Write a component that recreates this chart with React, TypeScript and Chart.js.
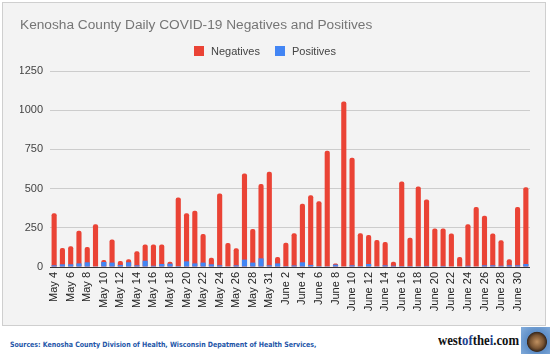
import React, { useEffect, useRef } from "react";
import { Chart, registerables } from "chart.js";

Chart.register(...registerables);

const dates = [
  "May 4", "May 5", "May 6", "May 7", "May 8", "May 9", "May 10", "May 11", "May 12", "May 13",
  "May 14", "May 15", "May 16", "May 17", "May 18", "May 19", "May 20", "May 21", "May 22", "May 23",
  "May 24", "May 25", "May 26", "May 27", "May 28", "May 30", "May 31",
  "June 1", "June 2", "June 3", "June 4", "June 5", "June 6", "June 7", "June 8", "June 9", "June 10",
  "June 11", "June 12", "June 13", "June 14", "June 15", "June 16", "June 17", "June 18", "June 19", "June 20",
  "June 21", "June 22", "June 23", "June 24", "June 25", "June 26", "June 27", "June 28", "June 29", "June 30",
  "July 1",
];

const negatives = [
  342, 121, 132, 231, 127, 272, 45, 176, 38, 49,
  100, 144, 144, 144, 34, 443, 342, 359, 210, 59,
  469, 153, 119, 596, 242, 530, 607,
  64, 155, 216, 403, 458, 420, 741, 23, 1055, 696,
  216, 204, 172, 159, 34, 545, 187, 513, 431, 246,
  246, 214, 64, 272, 382, 327, 214, 170, 49, 382,
  509,
];

const positives = [
  11, 17, 17, 23, 30, 2, 32, 28, 13, 30,
  11, 40, 8, 19, 21, 6, 36, 23, 28, 17,
  11, 2, 11, 47, 28, 55, 11,
  23, 6, 10, 30, 13, 6, 5, 15, 4, 11,
  6, 19, 5, 11, 8, 6, 6, 5, 7, 4,
  7, 4, 4, 8, 4, 11, 11, 8, 11, 11,
  19,
];

const yTicks = [0, 250, 500, 750, 1000, 1250];

const RED = "#ea4335";
const BLUE = "#4285f4";
const FONT = 'Arial, "Liberation Sans", sans-serif';

export default function App() {
  const canvasRef = useRef<HTMLCanvasElement | null>(null);

  useEffect(() => {
    const canvas = canvasRef.current;
    if (!canvas) return;
    const chart = new Chart(canvas, {
      type: "bar",
      data: {
        labels: dates,
        datasets: [
          {
            label: "Negatives",
            data: negatives,
            backgroundColor: RED,
            borderRadius: { topLeft: 2, topRight: 2, bottomLeft: 0, bottomRight: 0 },
            borderSkipped: false,
            barPercentage: 0.62,
            categoryPercentage: 1,
            order: 1,
          },
          {
            label: "Positives",
            data: positives,
            backgroundColor: BLUE,
            barPercentage: 0.62,
            categoryPercentage: 1,
            order: 0,
          },
        ],
      },
      options: {
        animation: false,
        responsive: false,
        maintainAspectRatio: false,
        layout: { padding: { left: 17, right: 15, top: 68, bottom: 0 } },
        plugins: {
          legend: { display: false },
          title: { display: false },
          tooltip: { enabled: false },
        },
        scales: {
          x: {
            stacked: true,
            grid: { display: false, drawTicks: false },
            border: { display: false },
            afterFit: (scale: any) => {
              scale.height = 58;
            },
            ticks: {
              autoSkip: false,
              minRotation: 90,
              maxRotation: 90,
              padding: 5,
              color: "#222",
              font: { family: FONT, size: 11 },
              callback: (_v: any, i: number) => (i % 2 === 0 ? dates[i] : ""),
            },
          },
          y: {
            stacked: false,
            min: yTicks[0],
            max: yTicks[yTicks.length - 1],
            afterBuildTicks: (scale: any) => {
              scale.ticks = yTicks.map((v) => ({ value: v }));
            },
            afterFit: (scale: any) => {
              scale.width = 30;
            },
            grid: {
              drawTicks: false,
              color: (ctx: any) => (ctx.tick && ctx.tick.value === 0 ? "#333" : "#cccccc"),
              lineWidth: 1,
            },
            border: { display: false },
            ticks: {
              padding: 7,
              color: "#444",
              font: { family: FONT, size: 11 },
              callback: (v: any) => String(v),
            },
          },
        },
      },
    });
    return () => chart.destroy();
  }, []);

  return (
    <div
      style={{
        position: "absolute",
        left: 0,
        top: 0,
        width: 550,
        height: 354,
        background: "#fff",
        overflow: "hidden",
        fontFamily: FONT,
      }}
    >
      <div
        style={{
          position: "absolute",
          left: 2,
          top: 2,
          width: 542,
          height: 322,
          border: "1px solid #cfcfcf",
          background: "#f3f3f3",
        }}
      >
        <canvas ref={canvasRef} width={542} height={322} style={{ display: "block", width: 542, height: 322 }} />
        <div
          style={{
            position: "absolute",
            left: 17,
            top: 14,
            fontSize: 13.7,
            color: "#757575",
            whiteSpace: "nowrap",
            lineHeight: "16px",
          }}
        >
          Kenosha County Daily COVID-19 Negatives and Positives
        </div>
        <div
          style={{
            position: "absolute",
            left: 191,
            top: 42,
            display: "flex",
            alignItems: "center",
            fontSize: 11,
            color: "#444",
            whiteSpace: "nowrap",
            lineHeight: "12px",
          }}
        >
          <span style={{ display: "inline-block", width: 10, height: 10, background: RED, marginRight: 7 }} />
          <span>Negatives</span>
          <span style={{ display: "inline-block", width: 10, height: 10, background: BLUE, marginLeft: 15, marginRight: 7 }} />
          <span>Positives</span>
        </div>
      </div>
      <div
        style={{
          position: "absolute",
          left: 10,
          top: 339.5,
          fontSize: 7.3,
          fontWeight: "bold",
          color: "#2456a8",
          whiteSpace: "nowrap",
          fontFamily: 'Verdana, "DejaVu Sans", sans-serif',
          lineHeight: "10px",
          transformOrigin: "left top",
          transform: "scaleX(0.86)",
        }}
      >
        Sources: Kenosha County Division of Health, Wisconsin Depatment of Health Services,
      </div>
      <div
        style={{
          position: "absolute",
          left: 438,
          top: 331,
          fontSize: 15,
          fontWeight: "bold",
          color: "#111",
          whiteSpace: "nowrap",
          fontFamily: '"Liberation Serif", "DejaVu Serif", serif',
          lineHeight: "18px",
          transformOrigin: "left top",
          transform: "scaleX(0.85)",
        }}
      >
        west<span style={{ color: "#1d3f8f" }}>of</span>the<span style={{ color: "#1d3f8f" }}>i</span>.com
      </div>
      <div
        style={{
          position: "absolute",
          left: 521,
          top: 327,
          width: 29,
          height: 27,
          background:
            "radial-gradient(circle at 55% 55%, #c09060 0, #7a5533 30%, #3b2a1e 44%, #5f8fc8 48%, #86afdd 100%)",
        }}
      />
    </div>
  );
}
